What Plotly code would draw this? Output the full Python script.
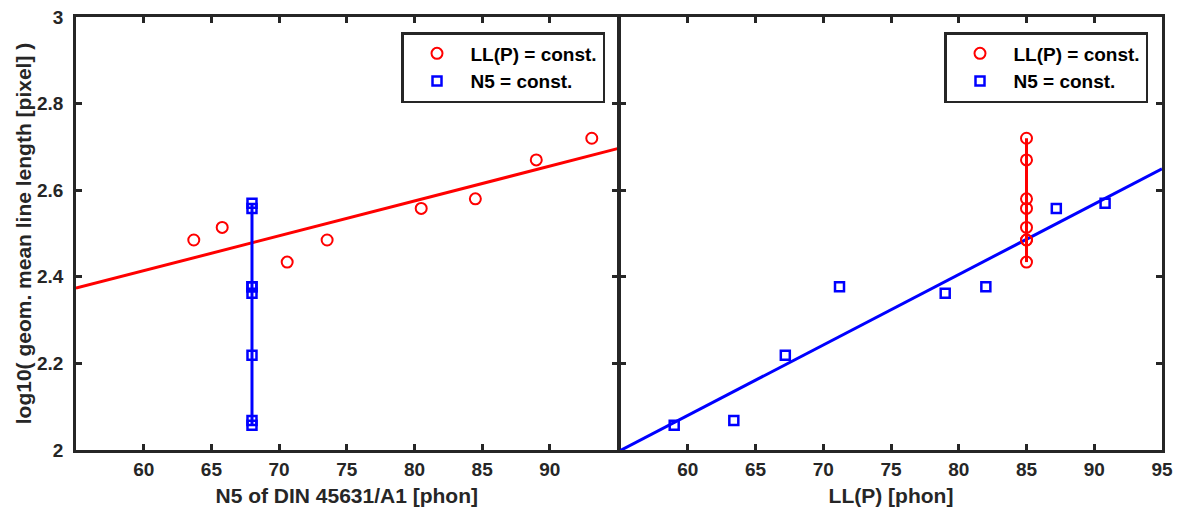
import numpy as np
import plotly.graph_objects as go

# ---- data ----
# Left panel: abscissa = N5 of DIN 45631/A1 [phon]
ll_const_n5 = [63.7, 65.8, 70.6, 73.55, 80.5, 84.5, 89.0, 93.1]
ll_const_y = [2.485, 2.514, 2.434, 2.485, 2.558, 2.580, 2.670, 2.720]
n5_const_value = 68.0
n5_const_y = [2.057, 2.068, 2.219, 2.377, 2.362, 2.377, 2.558, 2.570]

# Right panel: abscissa = LL(P) [phon]
n5_const_llp = [59.0, 63.4, 67.2, 71.2, 79.0, 82.0, 87.2, 90.8]
ll_const_value = 85.0

x_range = [55, 95]
y_range = [2, 3]
left_xticks = [60, 65, 70, 75, 80, 85, 90]
right_xticks = [60, 65, 70, 75, 80, 85, 90, 95]
yticks = [2, 2.2, 2.4, 2.6, 2.8, 3]

RED = "#FF0000"
BLUE = "#0000FF"
AX = "#262626"
FONT = "Liberation Sans, Arial, Helvetica, sans-serif"

W, H = 1178, 513

# regression fits
p_left = np.polyfit(ll_const_n5, ll_const_y, 1)
p_right = np.polyfit(n5_const_llp, n5_const_y, 1)
xfit = np.array(x_range, dtype=float)

fig = go.Figure()

# ---- left panel ----
fig.add_trace(go.Scatter(x=xfit, y=np.polyval(p_left, xfit), mode="lines",
                         line=dict(color=RED, width=3), showlegend=False,
                         xaxis="x", yaxis="y", hoverinfo="skip"))
ys = sorted(n5_const_y)
fig.add_trace(go.Scatter(x=[n5_const_value] * len(ys), y=ys, mode="lines",
                         line=dict(color=BLUE, width=3), showlegend=False,
                         xaxis="x", yaxis="y", hoverinfo="skip"))
fig.add_trace(go.Scatter(x=ll_const_n5, y=ll_const_y, mode="markers",
                         name="LL(P) = const.",
                         marker=dict(symbol="circle-open", size=11, color=RED,
                                     line=dict(width=2, color=RED)),
                         xaxis="x", yaxis="y", legend="legend"))
fig.add_trace(go.Scatter(x=[n5_const_value] * len(n5_const_y), y=n5_const_y,
                         mode="markers", name="N5 = const.",
                         marker=dict(symbol="square-open", size=9, color=BLUE,
                                     line=dict(width=2.5, color=BLUE)),
                         xaxis="x", yaxis="y", legend="legend"))

# ---- right panel ----
fig.add_trace(go.Scatter(x=xfit, y=np.polyval(p_right, xfit), mode="lines",
                         line=dict(color=BLUE, width=3), showlegend=False,
                         xaxis="x2", yaxis="y2", hoverinfo="skip"))
ys2 = sorted(ll_const_y)
fig.add_trace(go.Scatter(x=[ll_const_value] * len(ys2), y=ys2, mode="lines",
                         line=dict(color=RED, width=3), showlegend=False,
                         xaxis="x2", yaxis="y2", hoverinfo="skip"))
fig.add_trace(go.Scatter(x=[ll_const_value] * len(ll_const_y), y=ll_const_y,
                         mode="markers", name="LL(P) = const.",
                         marker=dict(symbol="circle-open", size=11, color=RED,
                                     line=dict(width=2, color=RED)),
                         xaxis="x2", yaxis="y2", legend="legend2"))
fig.add_trace(go.Scatter(x=n5_const_llp, y=n5_const_y, mode="markers",
                         name="N5 = const.",
                         marker=dict(symbol="square-open", size=9, color=BLUE,
                                     line=dict(width=2.5, color=BLUE)),
                         xaxis="x2", yaxis="y2", legend="legend2"))

tickfont = dict(family=FONT, size=19, color=AX, weight="bold")
titlefont = dict(family=FONT, size=21, color=AX, weight="bold")
common_ax = dict(showline=True, linecolor=AX, linewidth=2.5, mirror="ticks",
                 ticks="inside", ticklen=6, tickwidth=2.5, tickcolor=AX,
                 showgrid=False, zeroline=False, tickfont=tickfont,
                 automargin=False)

ydom = [1 - 450 / H, 1 - 17 / H]

legend_common = dict(bgcolor="white", bordercolor=AX, borderwidth=2.5,
                     font=dict(family=FONT, size=19, color="black", weight="bold"),
                     xanchor="right", yanchor="top", itemwidth=57,
                     tracegroupgap=0)

fig.update_layout(
    width=W, height=H,
    margin=dict(l=0, r=0, t=0, b=0),
    paper_bgcolor="white", plot_bgcolor="white",
    xaxis=dict(domain=[76 / W, 617.5 / W], range=x_range, tickvals=left_xticks,
               anchor="y", ticklabelstandoff=0,
               title=dict(text="N5 of DIN 45631/A1 [phon]", standoff=10,
                          font=titlefont),
               **common_ax),
    xaxis2=dict(domain=[620 / W, 1162 / W], range=x_range, tickvals=right_xticks,
                anchor="y2", ticklabelstandoff=0,
                title=dict(text="LL(P) [phon]", standoff=10, font=titlefont),
                **common_ax),
    yaxis=dict(domain=ydom, range=y_range, tickvals=yticks, anchor="x",
               ticklabelstandoff=6,
               title=dict(text="log10( geom. mean line length [pixel] )", standoff=0,
                          font=titlefont),
               **common_ax),
    yaxis2=dict(domain=ydom, range=y_range, tickvals=yticks, anchor="x2",
                showticklabels=False, **common_ax),
    legend=dict(x=605 / W, y=1 - 32 / H, **legend_common),
    legend2=dict(x=1148 / W, y=1 - 32 / H, **legend_common),
)

fig.write_html("out.html")
